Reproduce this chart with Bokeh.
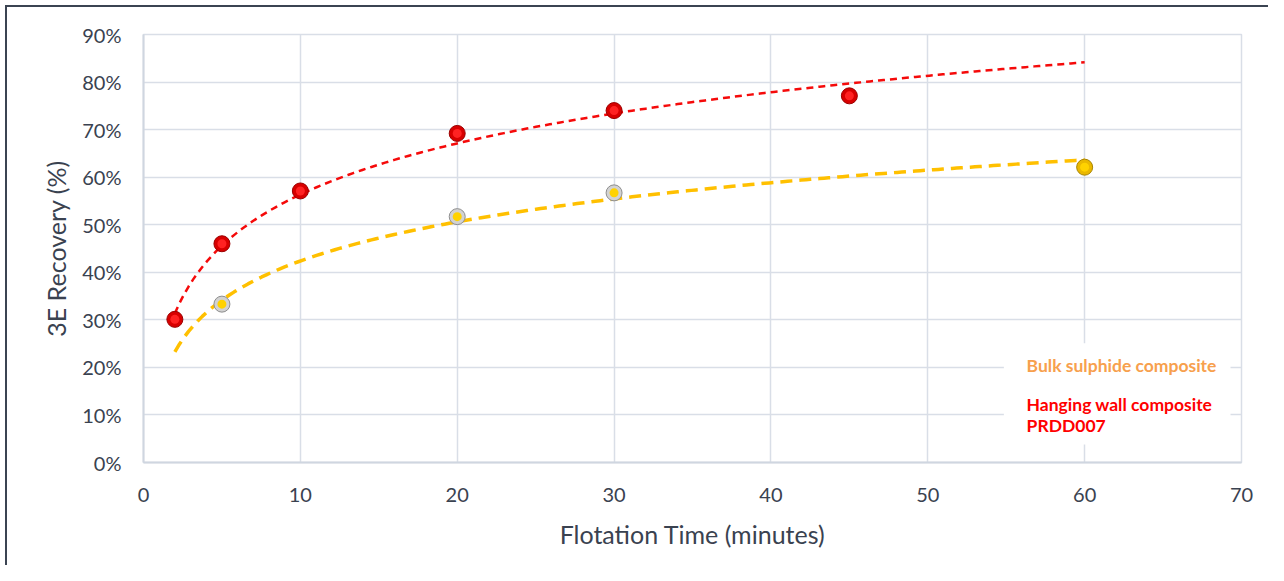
import numpy as np
from bokeh.plotting import figure
from bokeh.models import Range1d, FixedTicker, PrintfTickFormatter, BoxAnnotation, Label
from bokeh.embed import file_html
from bokeh.resources import INLINE

# ---- data ----
red_time = [2, 5, 10, 20, 30, 45]
red_recovery = [30.1, 46.0, 57.1, 69.2, 74.0, 77.1]
yel_time = [5, 20, 30, 60]
yel_recovery = [33.3, 51.7, 56.7, 62.1]
x_ticks = [0, 10, 20, 30, 40, 50, 60, 70]
y_ticks = [0, 10, 20, 30, 40, 50, 60, 70, 80, 90]
legend_labels = ["Bulk sulphide composite", "Hanging wall composite", "PRDD007"]

FONT = "Lato"
GRID = "#d9dee7"
TXT = "#3a4250"
FRAME = "#3b4452"

p = figure(width=1268, height=565, output_backend="svg", toolbar_location=None,
           x_range=Range1d(0, 70), y_range=Range1d(0, 90),
           min_border_left=143, min_border_right=27, min_border_top=34, min_border_bottom=103)
p.outline_line_color = GRID
p.outline_line_width = 1.5
p.border_fill_color = None
p.background_fill_color = "white"
# outer chart-area frame: left and top edges, 6px in from the corner
p.styles = {
    "background": (f"linear-gradient({FRAME},{FRAME}) 5px 5px / 2px 100% no-repeat, "
                   f"linear-gradient({FRAME},{FRAME}) 5px 5px / 100% 2px no-repeat, white"),
}

for ax in (p.xaxis[0], p.yaxis[0]):
    ax.axis_line_color = "#cfd6e0"
    ax.axis_line_width = 2
    ax.major_tick_line_color = None
    ax.minor_tick_line_color = None
    ax.major_tick_out = 0
    ax.major_tick_in = 0
    ax.major_label_text_font = FONT
    ax.major_label_text_font_size = "20px"
    ax.major_label_text_color = TXT
    ax.axis_label_text_font = FONT
    ax.axis_label_text_font_size = "25px"
    ax.axis_label_text_font_style = "normal"
    ax.axis_label_text_color = TXT

p.xaxis.ticker = FixedTicker(ticks=x_ticks)
p.yaxis.ticker = FixedTicker(ticks=y_ticks)
p.yaxis.formatter = PrintfTickFormatter(format="%d%%")
p.xaxis.axis_label = "Flotation Time (minutes)"
p.yaxis.axis_label = "3E Recovery (%)"
p.xaxis.major_label_standoff = 25
p.yaxis.major_label_standoff = 22
p.xaxis.axis_label_standoff = 14
p.yaxis.axis_label_standoff = 8

p.xgrid.ticker = FixedTicker(ticks=x_ticks)
p.ygrid.ticker = FixedTicker(ticks=y_ticks)
p.xgrid.grid_line_color = GRID
p.ygrid.grid_line_color = GRID
p.xgrid.grid_line_width = 1.5
p.ygrid.grid_line_width = 1.5

# logarithmic trendlines fitted to the data
def log_fit(t, r):
    b, a = np.polyfit(np.log(t), r, 1)
    xs = np.linspace(2, 60, 200)
    return xs, a + b * np.log(xs)

xr, yr = log_fit(red_time, red_recovery)
xy, yy = log_fit(yel_time, yel_recovery)
p.line(xy, yy, line_color="#ffc000", line_width=3.5, line_dash="12 7")
p.line(xr, yr, line_color="#f50a0a", line_width=2.5, line_dash="7 5")

# markers (sphere-like)
p.scatter(red_time, red_recovery, size=16, fill_color="#d80000", line_color="#9a0000", line_width=1)
p.scatter(red_time, red_recovery, size=9, fill_color="#ff2222", line_color=None)

ring = ["silver", "silver", "silver", "gold"]
ring_fill = {"silver": "#d2d2d2", "gold": "#eab800"}
ring_line = {"silver": "#8e8e8e", "gold": "#a88400"}
p.scatter(yel_time, yel_recovery, size=16, fill_color=[ring_fill[r] for r in ring],
          line_color=[ring_line[r] for r in ring], line_width=1)
p.scatter(yel_time, yel_recovery, size=9, fill_color="#ffd200", line_color=None)

# legend box (text only, as in original)
p.add_layout(BoxAnnotation(left=54.85, right=69.3, bottom=3.8, top=25.1,
                           fill_color="white", fill_alpha=1.0, line_color=None, level="annotation"))
legend_colors = ["#f7a04d", "#ff0000", "#ff0000"]
legend_y = [20.5, 12.1, 7.7]
for txt, col, yv in zip(legend_labels, legend_colors, legend_y):
    p.add_layout(Label(x=56.3, y=yv, text=txt, text_color=col, text_font=FONT,
                       text_font_size="17.5px", text_font_style="bold", text_baseline="middle"))

open("out.html", "w").write(file_html(p, INLINE))
